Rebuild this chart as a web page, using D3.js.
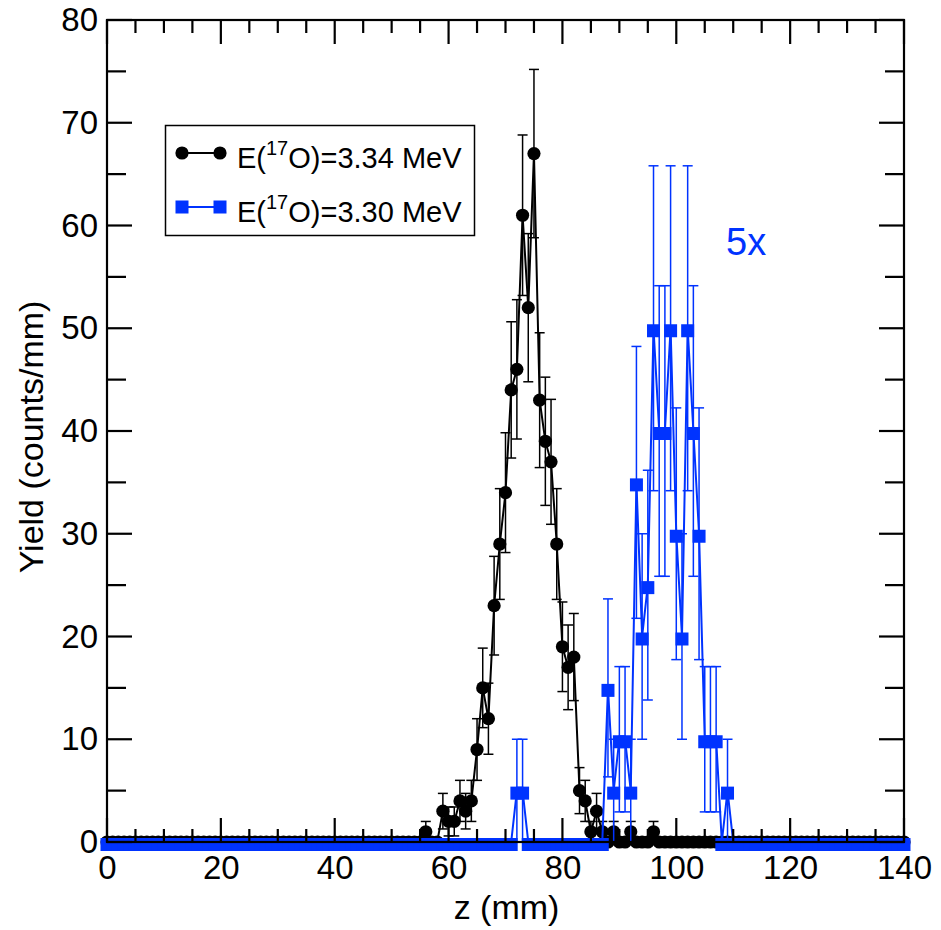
<!DOCTYPE html>
<html>
<head>
<meta charset="utf-8">
<script src="https://cdn.jsdelivr.net/npm/d3@7/dist/d3.min.js"></script>
<style>
  html, body { margin: 0; padding: 0; background: #fff; }
  svg { display: block; font-family: "Liberation Sans", Arial, Helvetica, sans-serif; }
</style>
</head>
<body>
<svg id="chart" width="941" height="930"></svg>
<script>
// ---------------- data ----------------
const zPositions = d3.range(0, 141); // 1 mm bins, 0..140 mm

// E(17O)=3.34 MeV, counts/mm (index = z in mm)
const blackValues = [
  0,0,0,0,0,0,0,0,0,0, 0,0,0,0,0,0,0,0,0,0,
  0,0,0,0,0,0,0,0,0,0, 0,0,0,0,0,0,0,0,0,0,
  0,0,0,0,0,0,0,0,0,0, 0,0,0,0,0,0,1,0,0,3,
  2,2,4,3,4,9,15,12,23,29, 34,44,46,61,52,67,43,39,37,29,
  19,17,18,5,4,1,3,1,0,1, 0,0,1,0,0,0,1,0,0,0,
  0,0,0,0,0,0,0,0,0,0, 0,0,0,0,0,0,0,0,0,0,
  0,0,0,0,0,0,0,0,0,0, 0,0,0,0,0,0,0,0,0,0,
  0
];
const blackErrors = [
  0,0,0,0,0,0,0,0,0,0, 0,0,0,0,0,0,0,0,0,0,
  0,0,0,0,0,0,0,0,0,0, 0,0,0,0,0,0,0,0,0,0,
  0,0,0,0,0,0,0,0,0,0, 0,0,0,0,0,0,1,0,0,1.73,
  1.41,1.41,2,1.73,2,3,3.87,3.46,4.8,5.39, 5.83,6.63,6.78,7.81,7.21,8.19,6.56,6.24,6.08,5.39,
  4.36,4.12,4.24,2.24,2,1,1.73,1,0,1, 0,0,1,0,0,0,1,0,0,0,
  0,0,0,0,0,0,0,0,0,0, 0,0,0,0,0,0,0,0,0,0,
  0,0,0,0,0,0,0,0,0,0, 0,0,0,0,0,0,0,0,0,0,
  0
];

// E(17O)=3.30 MeV, counts/mm x5
const blueValues = [
  0,0,0,0,0,0,0,0,0,0, 0,0,0,0,0,0,0,0,0,0,
  0,0,0,0,0,0,0,0,0,0, 0,0,0,0,0,0,0,0,0,0,
  0,0,0,0,0,0,0,0,0,0, 0,0,0,0,0,0,0,0,0,0,
  0,0,0,0,0,0,0,0,0,0, 0,0,5,5,0,0,0,0,0,0,
  0,0,0,0,0,0,0,0,15,5, 10,10,5,35,20,25,50,40,40,50,
  30,20,50,40,30,10,10,10,0,5, 0,0,0,0,0,0,0,0,0,0,
  0,0,0,0,0,0,0,0,0,0, 0,0,0,0,0,0,0,0,0,0,
  0
];
const blueErrors = [
  0,0,0,0,0,0,0,0,0,0, 0,0,0,0,0,0,0,0,0,0,
  0,0,0,0,0,0,0,0,0,0, 0,0,0,0,0,0,0,0,0,0,
  0,0,0,0,0,0,0,0,0,0, 0,0,0,0,0,0,0,0,0,0,
  0,0,0,0,0,0,0,0,0,0, 0,0,5,5,0,0,0,0,0,0,
  0,0,0,0,0,0,0,0,8.66,5, 7.07,7.07,5,13.23,10,11.18,15.81,14.14,14.14,15.81,
  12.25,10,15.81,14.14,12.25,7.07,7.07,7.07,0,5, 0,0,0,0,0,0,0,0,0,0,
  0,0,0,0,0,0,0,0,0,0, 0,0,0,0,0,0,0,0,0,0,
  0
];

const xTicks = [0, 20, 40, 60, 80, 100, 120, 140];
const yTicks = [0, 10, 20, 30, 40, 50, 60, 70, 80];
const legendLabels = [
  {base: "E(", sup: "17", rest: "O)=3.34 MeV"},
  {base: "E(", sup: "17", rest: "O)=3.30 MeV"}
];
const scaleNote = "5x";

// ---------------- layout ----------------
const BLUE = "#0033ff";
const margin = {left: 107, right: 941 - 904, top: 20, bottom: 930 - 842};
const W = 941, H = 930;
const svg = d3.select("#chart");

const x = d3.scaleLinear().domain([0, 140]).range([margin.left, W - margin.right]);
const y = d3.scaleLinear().domain([0, 80]).range([H - margin.bottom, margin.top]);

const black = zPositions.map((z, i) => ({z, v: blackValues[i], e: blackErrors[i]}));
const blue = zPositions.map((z, i) => ({z, v: blueValues[i], e: blueErrors[i]}));

const line = d3.line().x(d => x(d.z)).y(d => y(d.v));
const capW = 5;

function drawSeries(data, color, marker) {
  const g = svg.append("g");
  g.append("path").datum(data).attr("d", line)
    .attr("fill", "none").attr("stroke", color).attr("stroke-width", 2);
  const eb = data.filter(d => d.e > 0);
  const ge = g.append("g").attr("stroke", color).attr("stroke-width", 1.5);
  ge.selectAll("line.r").data(eb).join("line")
    .attr("x1", d => x(d.z)).attr("x2", d => x(d.z))
    .attr("y1", d => y(d.v - d.e)).attr("y2", d => y(d.v + d.e));
  ge.selectAll("line.t").data(eb).join("line")
    .attr("x1", d => x(d.z) - capW).attr("x2", d => x(d.z) + capW)
    .attr("y1", d => y(d.v + d.e)).attr("y2", d => y(d.v + d.e));
  ge.selectAll("line.b").data(eb.filter(d => d.v - d.e > 0.01)).join("line")
    .attr("x1", d => x(d.z) - capW).attr("x2", d => x(d.z) + capW)
    .attr("y1", d => y(d.v - d.e)).attr("y2", d => y(d.v - d.e));
  if (marker === "circle") {
    g.selectAll("circle").data(data).join("circle")
      .attr("cx", d => x(d.z)).attr("cy", d => y(d.v)).attr("r", 6.6)
      .attr("fill", color);
  } else {
    const s = 13;
    g.selectAll("rect").data(data).join("rect")
      .attr("x", d => x(d.z) - s / 2).attr("y", d => y(d.v) - s / 2 + 2.5)
      .attr("width", s).attr("height", s).attr("fill", color);
  }
}

drawSeries(black, "#000", "circle");
drawSeries(blue, BLUE, "square");

// ---------------- axes ----------------
const axisG = svg.append("g").attr("stroke", "#000").attr("stroke-width", 2.2);
axisG.append("rect")
  .attr("x", x(0)).attr("y", y(80))
  .attr("width", x(140) - x(0)).attr("height", y(0) - y(80))
  .attr("fill", "none");

const xMinor = d3.range(0, 141, 5).filter(v => !xTicks.includes(v));
const yMinor = d3.range(5, 80, 10);

function xt(vals, len) {
  vals.forEach(v => {
    axisG.append("line").attr("x1", x(v)).attr("x2", x(v)).attr("y1", y(0)).attr("y2", y(0) - len);
    axisG.append("line").attr("x1", x(v)).attr("x2", x(v)).attr("y1", y(80)).attr("y2", y(80) + len);
  });
}
function yt(vals, len) {
  vals.forEach(v => {
    axisG.append("line").attr("x1", x(0)).attr("x2", x(0) + len).attr("y1", y(v)).attr("y2", y(v));
    axisG.append("line").attr("x1", x(140)).attr("x2", x(140) - len).attr("y1", y(v)).attr("y2", y(v));
  });
}
xt(xTicks, 24); xt(xMinor, 13);
yt(yTicks, 25); yt(yMinor, 19);

// tick labels via d3 axes (lines hidden)
const xAxis = d3.axisBottom(x).tickValues(xTicks).tickSize(0).tickPadding(14).tickFormat(d3.format("d"));
const yAxis = d3.axisLeft(y).tickValues(yTicks).tickSize(0).tickPadding(9).tickFormat(d3.format("d"));
const gx = svg.append("g").attr("transform", `translate(0,${y(0)})`).call(xAxis);
const gy = svg.append("g").attr("transform", `translate(${x(0)},0)`).call(yAxis);
[gx, gy].forEach(g => {
  g.select(".domain").remove();
  g.selectAll("text").attr("font-size", 33).attr("fill", "#000")
    .attr("font-family", "'Liberation Sans', Arial, sans-serif");
});

// axis titles
svg.append("text").attr("x", (x(0) + x(140)) / 2 + 1).attr("y", 919)
  .attr("text-anchor", "middle").attr("font-size", 34).text("z (mm)");
svg.append("text").attr("transform", `translate(43,${(y(0) + y(80)) / 2 + 6}) rotate(-90)`)
  .attr("text-anchor", "middle").attr("font-size", 34).text("Yield (counts/mm)");

// "5x" note
svg.append("text").attr("x", 726).attr("y", 255).attr("fill", BLUE)
  .attr("font-size", 38).text(scaleNote);

// ---------------- legend ----------------
const lg = svg.append("g");
lg.append("rect").attr("x", 165.5).attr("y", 125.5).attr("width", 309).attr("height", 110)
  .attr("fill", "#fff").attr("stroke", "#000").attr("stroke-width", 1.5);
const rows = [153, 207];
lg.append("line").attr("x1", 182).attr("x2", 220).attr("y1", rows[0]).attr("y2", rows[0])
  .attr("stroke", "#000").attr("stroke-width", 1.8);
[182, 220].forEach(cx => lg.append("circle").attr("cx", cx).attr("cy", rows[0]).attr("r", 6.6).attr("fill", "#000"));
lg.append("line").attr("x1", 182).attr("x2", 220).attr("y1", rows[1]).attr("y2", rows[1])
  .attr("stroke", BLUE).attr("stroke-width", 1.8);
[182, 220].forEach(cx => lg.append("rect").attr("x", cx - 6.5).attr("y", rows[1] - 6.5)
  .attr("width", 13).attr("height", 13).attr("fill", BLUE));
legendLabels.forEach((L, i) => {
  const t = lg.append("text").attr("x", 237).attr("y", rows[i] + 15).attr("font-size", 29);
  t.append("tspan").text(L.base);
  t.append("tspan").attr("font-size", 20).attr("dy", -13).text(L.sup);
  t.append("tspan").attr("dy", 13).text(L.rest);
});
</script>
</body>
</html>
